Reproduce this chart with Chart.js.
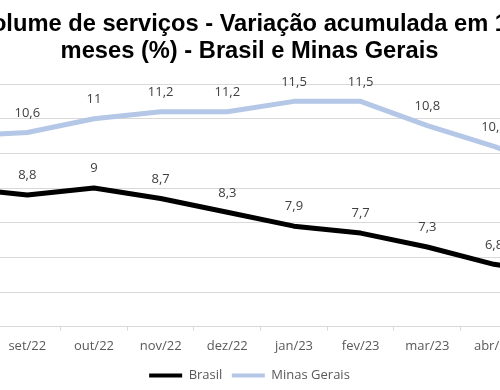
<!DOCTYPE html>
<html>
<head>
<meta charset="utf-8">
<script src="https://cdn.jsdelivr.net/npm/chart.js@4"></script>
<style>
  html, body { margin: 0; padding: 0; background: #fff; overflow: hidden; width: 500px; height: 390px; }
  /* the chart is wider than the window: only the middle part shows, like the reference crop */
  #wrap { position: absolute; left: -95px; top: 0; width: 689px; height: 392px; }
</style>
</head>
<body>
<div id="wrap"><canvas id="chart" width="689" height="392"></canvas></div>
<script>
Chart.defaults.font.family = 'Open Sans';

const MONTHS = ['ago/22', 'set/22', 'out/22', 'nov/22', 'dez/22', 'jan/23', 'fev/23', 'mar/23', 'abr/23', 'mai/23'];
const BRASIL = [9.0, 8.8, 9, 8.7, 8.3, 7.9, 7.7, 7.3, 6.8, 6.5];
const MINAS = [10.5, 10.6, 11, 11.2, 11.2, 11.5, 11.5, 10.8, 10.2, 9.5];
const Y_MIN = 5, Y_MAX = 12;

const TITLE = ['Volume de serviços - Variação acumulada em 12', 'meses (%) - Brasil e Minas Gerais'];

// value labels above each point, decimal comma like the source
const pointLabels = {
  id: 'pointLabels',
  afterDatasetsDraw(chart) {
    const ctx = chart.ctx;
    ctx.save();
    ctx.font = '13px "Open Sans"';
    ctx.fillStyle = '#404040';
    ctx.textAlign = 'center';
    ctx.textBaseline = 'middle';
    chart.data.datasets.forEach((ds, i) => {
      chart.getDatasetMeta(i).data.forEach((pt, j) => {
        ctx.fillText(String(ds.data[j]).replace('.', ','), pt.x, pt.y - 19.5);
      });
    });
    ctx.restore();
  }
};

new Chart(document.getElementById('chart'), {
  type: 'line',
  data: {
    labels: MONTHS,
    datasets: [
      { label: 'Brasil', data: BRASIL, borderColor: '#000000', backgroundColor: '#000000' },
      { label: 'Minas Gerais', data: MINAS, borderColor: '#b4c7e7', backgroundColor: '#b4c7e7' },
    ],
  },
  options: {
    responsive: false,
    animation: false,
    layout: { padding: { top: 10.5, left: 0, right: 0, bottom: 0 } },
    elements: {
      line: { borderWidth: 5, tension: 0, borderJoinStyle: 'round', borderCapStyle: 'round' },
      point: { radius: 0 },
    },
    plugins: {
      title: {
        display: true, text: TITLE, color: '#000',
        font: { family: 'Liberation Sans', size: 23.7, weight: 'bold', lineHeight: 1.14 },
        padding: { top: 0, bottom: 19.5 },
      },
      legend: {
        position: 'bottom',
        labels: {
          color: '#595959', font: { size: 13 }, boxWidth: 33, boxHeight: 4, padding: 9.5,
          generateLabels: (chart) => chart.data.datasets.map((ds, i) => ({
            text: ds.label, fillStyle: ds.borderColor, strokeStyle: ds.borderColor,
            lineWidth: 0, datasetIndex: i, fontColor: '#595959',
          })),
        },
      },
      tooltip: { enabled: false },
    },
    scales: {
      x: {
        offset: true,
        afterFit: (s) => { s.height -= 2; },
        grid: { offset: true, drawOnChartArea: false, tickLength: 4, color: '#d9d9d9' },
        border: { color: '#d9d9d9' },
        ticks: { color: '#595959', font: { size: 13 }, padding: 7.6, maxRotation: 0, autoSkip: false },
      },
      y: {
        min: Y_MIN, max: Y_MAX,
        afterFit: (s) => { s.width = 22.3; },
        grid: { color: '#d9d9d9', drawTicks: false },
        border: { display: false },
        ticks: { stepSize: 1, display: false },
      },
    },
  },
  plugins: [pointLabels],
});
</script>
</body>
</html>
